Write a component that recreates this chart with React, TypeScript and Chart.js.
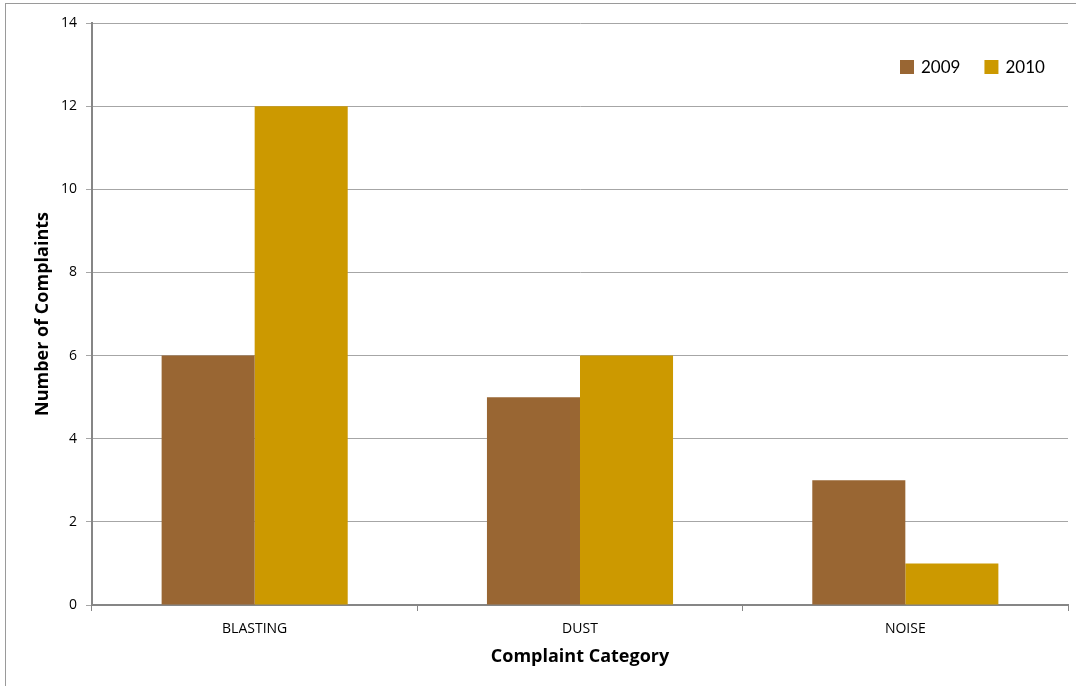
import React, { useEffect, useRef } from "react";
import { Chart, registerables } from "chart.js";

Chart.register(...registerables);

const categories = ["BLASTING", "DUST", "NOISE"];
const series2009 = [6, 5, 3];
const series2010 = [12, 6, 1];
const seriesLabels = ["2009", "2010"];
const yTicks = [0, 2, 4, 6, 8, 10, 12, 14];

const FONT = "'Open Sans', 'Noto Sans', sans-serif";
const LEGEND_FONT = "Lato, 'Noto Sans', sans-serif";

const insideLegend = {
  id: "insideLegend",
  afterDraw(chart: any) {
    const { ctx, chartArea } = chart;
    ctx.save();
    ctx.font = `17px ${LEGEND_FONT}`;
    ctx.textBaseline = "middle";
    ctx.textAlign = "left";
    const y = chartArea.top + 44;
    let x = 900;
    chart.data.datasets.forEach((ds: any) => {
      ctx.fillStyle = ds.backgroundColor;
      ctx.fillRect(x, y - 7, 14, 14);
      ctx.fillStyle = "#000";
      ctx.fillText(ds.label, x + 21, y + 1);
      x += 21 + ctx.measureText(ds.label).width + 24;
    });
    ctx.restore();
  },
};

export default function App() {
  const ref = useRef<HTMLCanvasElement>(null);
  useEffect(() => {
    document.body.style.margin = "0";
    const chart = new Chart(ref.current!, {
      type: "bar",
      data: {
        labels: categories,
        datasets: [
          {
            label: seriesLabels[0],
            data: series2009,
            backgroundColor: "#996633",
            borderWidth: 0,
            categoryPercentage: 0.572,
            barPercentage: 1,
          },
          {
            label: seriesLabels[1],
            data: series2010,
            backgroundColor: "#cc9900",
            borderWidth: 0,
            categoryPercentage: 0.572,
            barPercentage: 1,
          },
        ],
      },
      options: {
        animation: false,
        responsive: false,
        devicePixelRatio: 1,
        layout: { padding: { left: 0, right: 8, top: 23, bottom: 0 } },
        plugins: {
          legend: { display: false },
          tooltip: { enabled: false },
        },
        scales: {
          x: {
            grid: {
              offset: true,
              drawOnChartArea: false,
              drawTicks: true,
              tickLength: 6,
              color: "#868686",
              lineWidth: 1,
            },
            border: { color: "#868686", width: 2 },
            ticks: {
              color: "#000",
              font: { family: FONT, size: 14 },
              padding: 10,
            },
            title: {
              display: true,
              text: "Complaint Category",
              color: "#000",
              font: { family: FONT, size: 18, weight: "bold" },
              padding: { top: 0, bottom: 18 },
            },
            afterFit: (s: any) => {
              s.height = 81;
            },
          },
          y: {
            min: 0,
            max: 14,
            afterBuildTicks: (s: any) => {
              s.ticks = yTicks.map((v) => ({ value: v }));
            },
            grid: {
              color: "#a6a6a6",
              lineWidth: 1,
              tickLength: 6,
            },
            border: { color: "#868686", width: 2 },
            ticks: {
              color: "#000",
              font: { family: FONT, size: 14 },
              padding: 9,
            },
            title: {
              display: true,
              text: "Number of Complaints",
              color: "#000",
              font: { family: FONT, size: 18, weight: "bold" },
              padding: { top: 32, bottom: 0 },
            },
            afterFit: (s: any) => {
              s.width = 92;
            },
          },
        },
      },
      plugins: [insideLegend],
    });
    return () => chart.destroy();
  }, []);
  return (
    <div
      style={{
        position: "absolute",
        left: 0,
        top: 0,
        width: 1076,
        height: 686,
        background: "#fff",
      }}
    >
      <div
        style={{
          position: "absolute",
          left: 5,
          top: 3,
          width: 1100,
          height: 720,
          border: "1px solid #9a9a9a",
          boxSizing: "border-box",
        }}
      />
      <canvas
        ref={ref}
        width={1076}
        height={686}
        style={{ position: "absolute", left: 0, top: 0, width: 1076, height: 686 }}
      />
    </div>
  );
}
